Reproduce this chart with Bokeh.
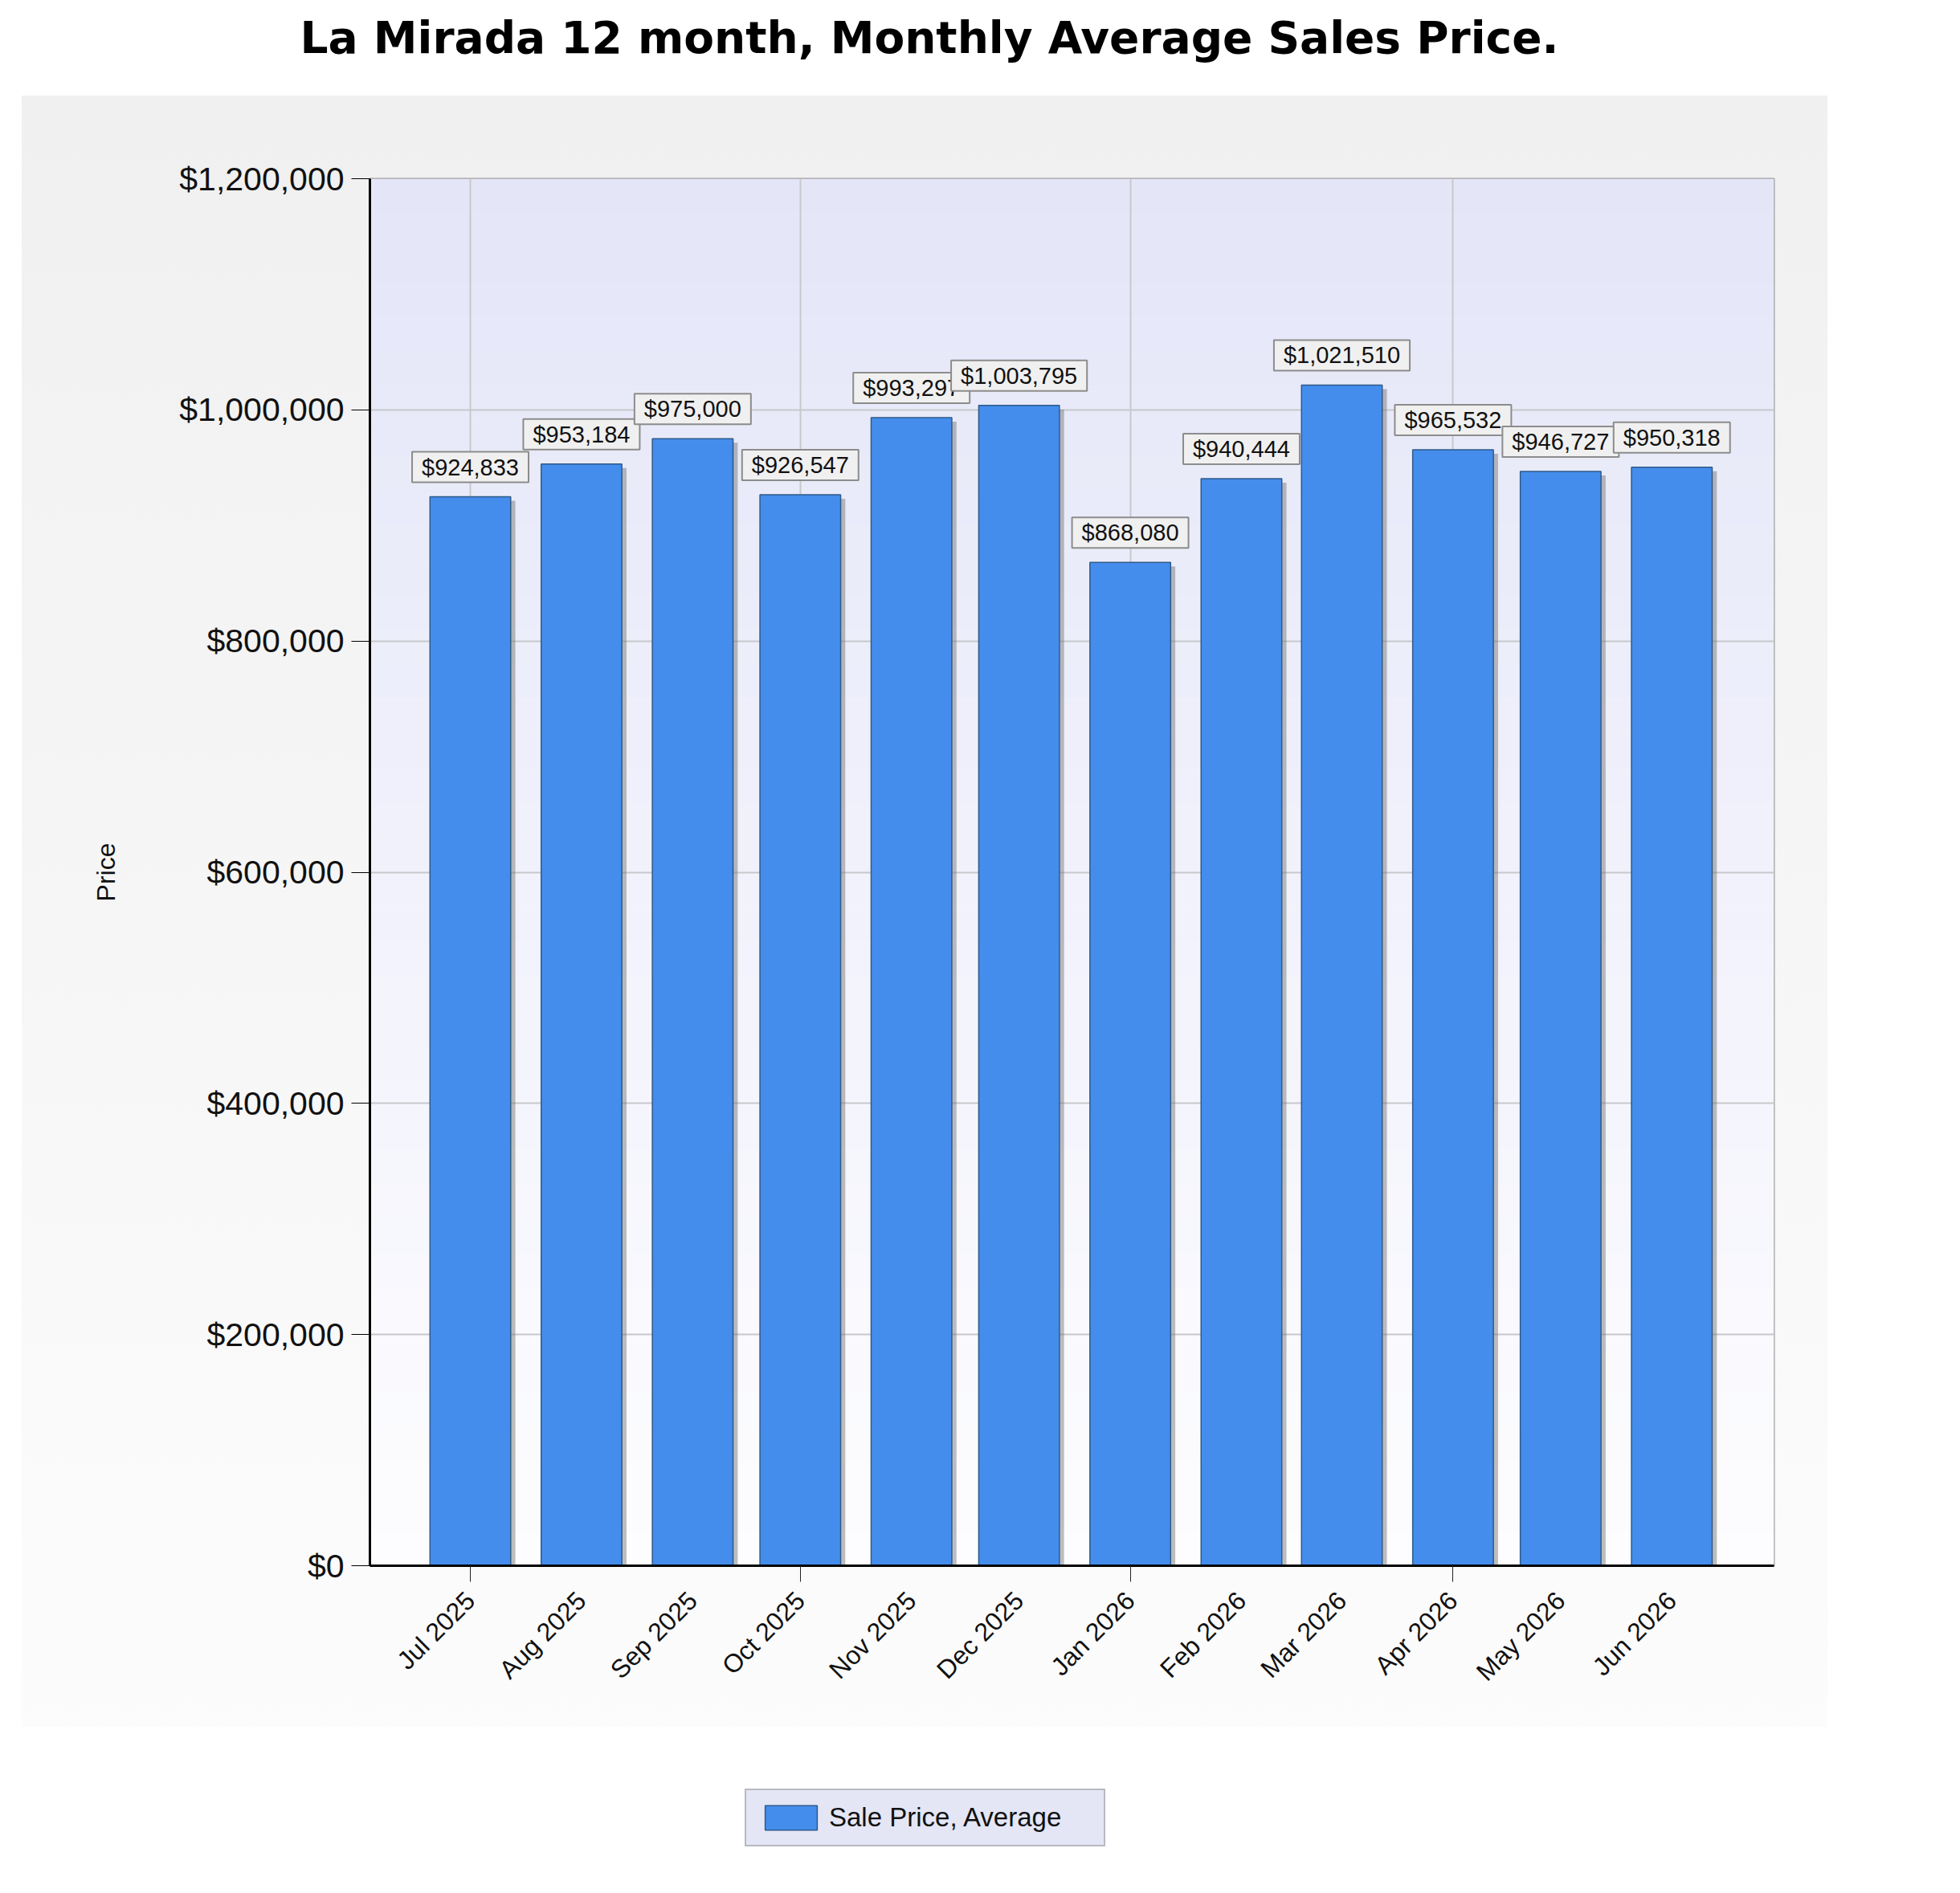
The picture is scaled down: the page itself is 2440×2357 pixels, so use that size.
import pandas as pd
from bokeh.plotting import figure
from bokeh.layouts import column
from bokeh.models import (Range1d, FixedTicker, NumeralTickFormatter,
                          DatetimeTickFormatter, Label, BoxAnnotation, Legend, LegendItem)
from bokeh.embed import file_html
from bokeh.resources import INLINE

# data
months = ["Jul 2025", "Aug 2025", "Sep 2025", "Oct 2025", "Nov 2025", "Dec 2025",
          "Jan 2026", "Feb 2026", "Mar 2026", "Apr 2026", "May 2026", "Jun 2026"]
prices = [924833, 953184, 975000, 926547, 993297, 1003795,
          868080, 940444, 1021510, 965532, 946727, 950318]
grid_months = ["Jul 2025", "Oct 2025", "Jan 2026", "Apr 2026"]
y_ticks = [0, 200000, 400000, 600000, 800000, 1000000, 1200000]

title_text = "La Mirada 12 month, Monthly Average Sales Price."
series_name = "Sale Price, Average"

DAY = 86400000  # ms
dates = pd.to_datetime(months, format="%b %Y")
xs = [float(v) for v in dates.asi8 // 10**6]
grid_xs = [float(v) for v in pd.to_datetime(grid_months, format="%b %Y").asi8 // 10**6]
shadow_xs = [x + 1.3 * DAY for x in xs]
shadow_tops = [v - 3500 for v in prices]

BAR = "#448DED"
BAR_LINE = "#2F5A88"
FONT = "Liberation Sans"
W = 2290

# ---- title strip (its frame lines up with the chart's frame in the column) ----
top = figure(width=W, height=119, output_backend="svg", toolbar_location=None, tools="",
             x_axis_location=None, y_axis_location=None,
             min_border_left=0, min_border_right=0, min_border_top=0, min_border_bottom=0)
top.outline_line_color = None
top.background_fill_color = None
top.border_fill_color = None
top.grid.visible = False
top.title.text = title_text
top.title.align = "left"
top.title.offset = -87
top.title.standoff = 24
top.title.text_font = "DejaVu Sans"
top.title.text_font_style = "bold"
top.title.text_font_size = "55px"
top.title.text_color = "black"

# ---- main chart ----
p = figure(width=W, height=2031, x_axis_type="datetime",
           x_range=Range1d(xs[0] - 28 * DAY, xs[-1] + 28.5 * DAY),
           y_range=Range1d(0, 1200000),
           output_backend="svg", toolbar_location=None, tools="",
           min_border_left=460, min_border_right=82,
           min_border_top=103, min_border_bottom=201)

p.border_fill_color = None
p.background_fill_color = None
p.outline_line_color = "#a0a0a0"
p.outline_line_width = 2
p.styles = {
    "background": "linear-gradient(to right, #ffffff 0px, #ffffff 27px, transparent 27px, "
                  "transparent 2275px, #ffffff 2275px), "
                  "linear-gradient(to bottom, #f0f0f0, #fcfcfc)"
}

# plot area gradient (lavender -> white)
n_bands = 40
top_c, bot_c = (228, 230, 248), (253, 253, 255)
for i in range(n_bands):
    t = i / (n_bands - 1)
    c = tuple(int(round(bot_c[k] + (top_c[k] - bot_c[k]) * t)) for k in range(3))
    p.add_layout(BoxAnnotation(bottom=1200000 * i / n_bands, top=1200000 * (i + 1) / n_bands,
                               fill_color="#%02x%02x%02x" % c, fill_alpha=1,
                               line_color=None, level="image"))

# grid
p.ygrid.ticker = FixedTicker(ticks=y_ticks)
p.xgrid.ticker = FixedTicker(ticks=grid_xs)
p.grid.grid_line_color = "#c8c8cc"
p.grid.grid_line_width = 2

# bars with a soft shadow
p.vbar(x=shadow_xs, top=shadow_tops, bottom=-50000, width=22.5 * DAY,
       fill_color="#6e6e6e", fill_alpha=0.45, line_color=None)
p.vbar(x=xs, top=prices, width=22.5 * DAY, fill_color=BAR,
       line_color=BAR_LINE, line_width=1.5)

# value boxes
for x, v in zip(xs, prices):
    p.add_layout(Label(x=x, y=v, text="${:,}".format(v), text_align="center",
                       text_baseline="bottom", y_offset=18,
                       text_font=FONT, text_font_size="29px", text_color="#111111",
                       background_fill_color="#f0f0f0", background_fill_alpha=1,
                       border_line_color="#8c8c8c", border_line_width=2,
                       padding=dict(left=12, right=12, top=3, bottom=3)))

# y axis
yax = p.yaxis[0]
yax.ticker = FixedTicker(ticks=y_ticks)
yax.formatter = NumeralTickFormatter(format="$0,0")
yax.major_label_text_font = FONT
yax.major_label_text_font_size = "41px"
yax.major_label_text_color = "#111111"
yax.major_label_standoff = 9
yax.major_tick_out = 23
yax.major_tick_in = 0
yax.major_tick_line_color = "black"
yax.minor_tick_line_color = None
yax.axis_line_color = "black"
yax.axis_line_width = 3
yax.axis_label = "Price"
yax.axis_label_text_font = FONT
yax.axis_label_text_font_size = "32px"
yax.axis_label_text_font_style = "normal"
yax.axis_label_text_color = "#111111"
yax.axis_label_standoff = 70

# x axis: every month labelled, quarterly tick marks
xax = p.xaxis[0]
xax.ticker = FixedTicker(ticks=xs, minor_ticks=grid_xs)
fmt = "%b %Y"
xax.formatter = DatetimeTickFormatter(microseconds=fmt, milliseconds=fmt, seconds=fmt,
                                      minsec=fmt, minutes=fmt, hourmin=fmt, hours=fmt,
                                      days=fmt, months=fmt, years=fmt)
xax.major_label_orientation = 0.785398
xax.major_label_text_font = FONT
xax.major_label_text_font_size = "32px"
xax.major_label_text_color = "#111111"
xax.major_label_standoff = 18
xax.major_tick_out = 20
xax.major_tick_in = 0
xax.major_tick_line_color = None
xax.minor_tick_out = 20
xax.minor_tick_in = 0
xax.minor_tick_line_color = "#222222"
xax.axis_line_color = "black"
xax.axis_line_width = 3

# ---- legend strip ----
bot = figure(width=W, height=198, output_backend="svg", toolbar_location=None, tools="",
             x_axis_location=None, y_axis_location=None,
             min_border_left=0, min_border_right=0, min_border_top=0, min_border_bottom=0)
bot.outline_line_color = None
bot.background_fill_color = None
bot.border_fill_color = None
bot.grid.visible = False
# hidden copy of the series, used only for the legend swatch
swatch = bot.vbar(x=xs[:1], top=prices[:1], width=DAY, fill_color=BAR,
                  line_color=BAR_LINE, line_width=1.5, visible=False)

lg = Legend(items=[LegendItem(label=series_name, renderers=[swatch])], location=(467, 49))
lg.background_fill_color = "#e4e6f6"
lg.background_fill_alpha = 1
lg.border_line_color = "#8c8c8c"
lg.border_line_width = 2
lg.padding = 15
lg.margin = 0
lg.glyph_width = 81
lg.glyph_height = 38
lg.label_height = 30
lg.label_standoff = 7
lg.label_width = 327
lg.label_text_font = FONT
lg.label_text_font_size = "33px"
lg.label_text_color = "#111111"
bot.add_layout(lg)

layout = column(top, p, bot, spacing=0)
open("out.html", "w").write(file_html(layout, INLINE))
